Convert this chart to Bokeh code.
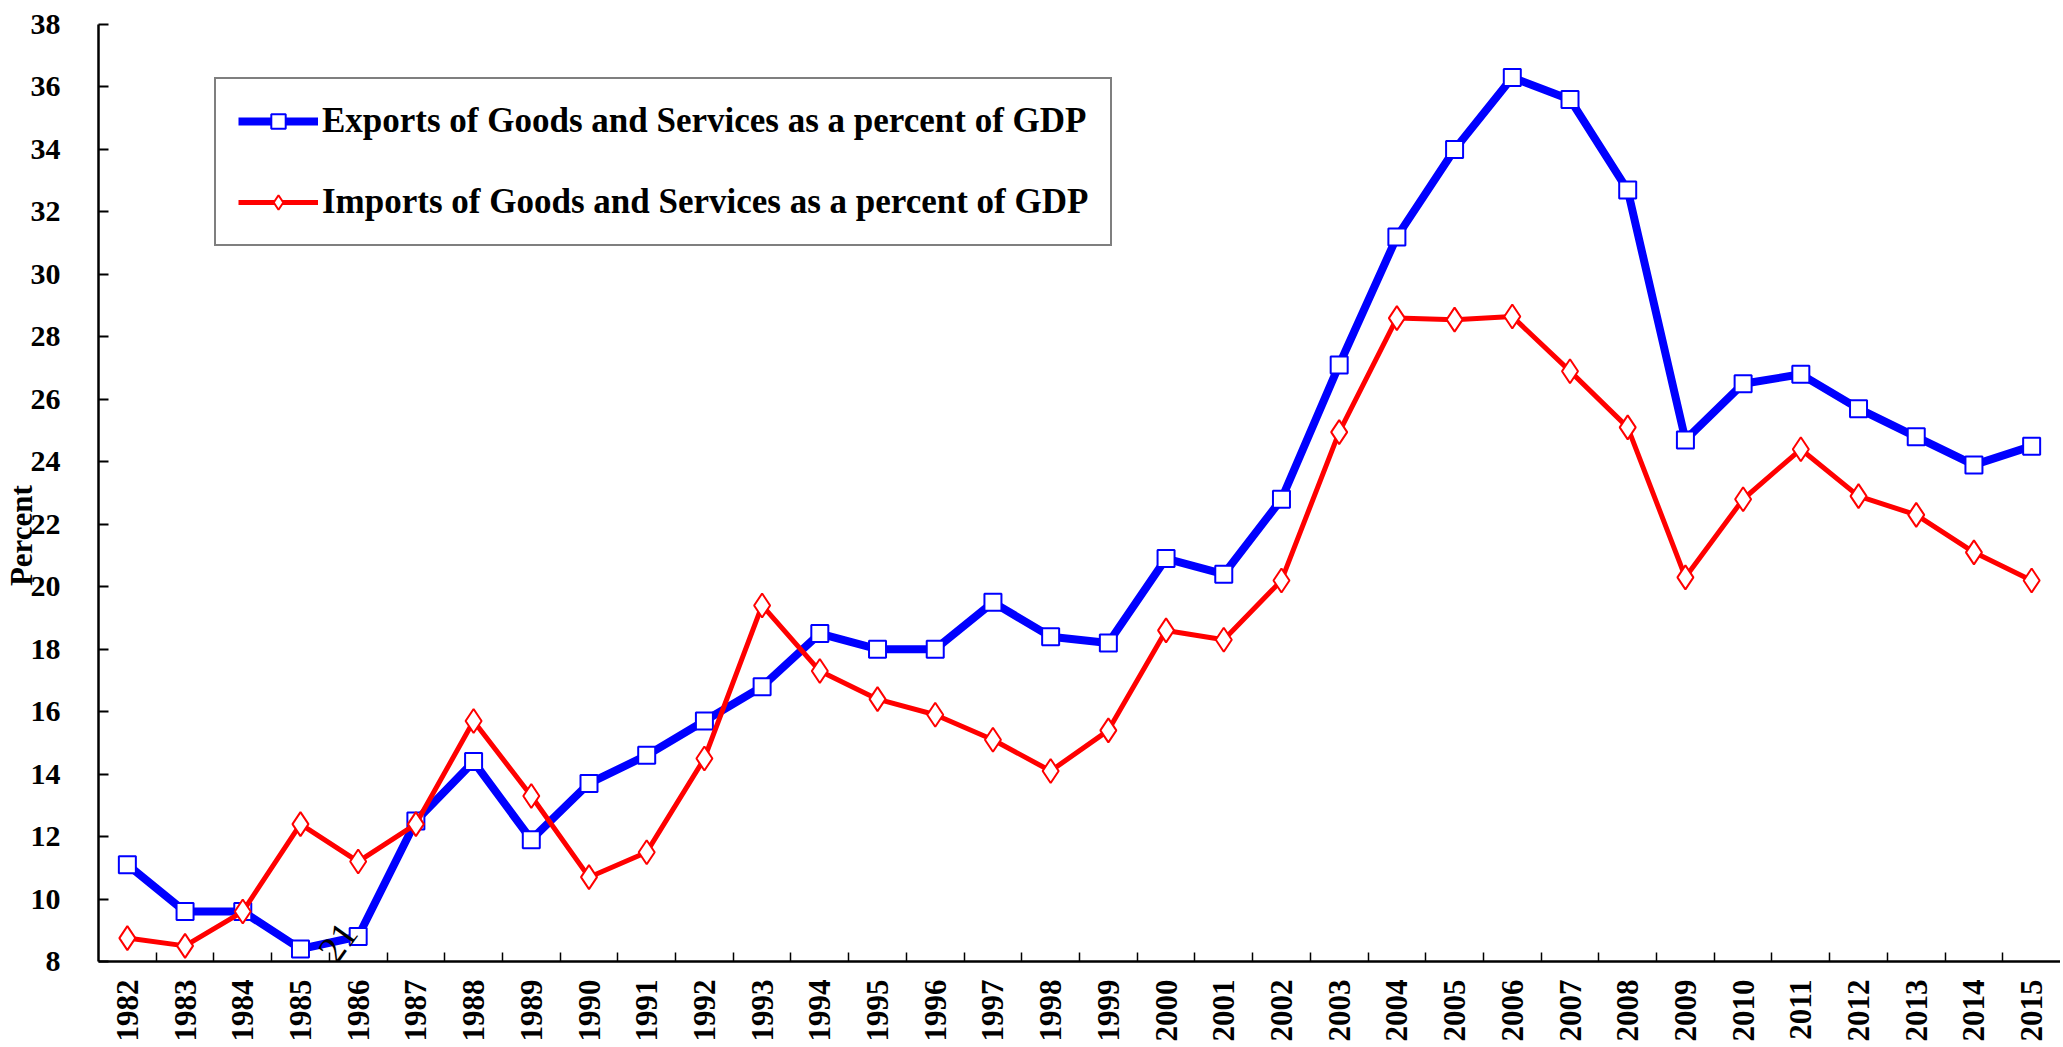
from bokeh.plotting import figure
from bokeh.models import (Range1d, FixedTicker, CustomJSTickFormatter, Label,
                          Legend, LegendItem)
from bokeh.embed import file_html
from bokeh.resources import INLINE
import math

years = ["1982", "1983", "1984", "1985", "1986", "1987", "1988", "1989",
         "1990", "1991", "1992", "1993", "1994", "1995", "1996", "1997",
         "1998", "1999", "2000", "2001", "2002", "2003", "2004", "2005",
         "2006", "2007", "2008", "2009", "2010", "2011", "2012", "2013",
         "2014", "2015"]

exports = [11.1, 9.6, 9.6, 8.4, 8.8, 12.5, 14.4, 11.9, 13.7, 14.6, 15.7, 16.8,
           18.5, 18.0, 18.0, 19.5, 18.4, 18.2, 20.9, 20.4, 22.8, 27.1, 31.2,
           34.0, 36.3, 35.6, 32.7, 24.7, 26.5, 26.8, 25.7, 24.8, 23.9, 24.5]

imports = [8.75, 8.5, 9.6, 12.4, 11.2, 12.4, 15.7, 13.3, 10.7, 11.5, 14.5, 19.4,
           17.3, 16.4, 15.9, 15.1, 14.1, 15.4, 18.6, 18.3, 20.2, 24.95, 28.6,
           28.55, 28.65, 26.9, 25.1, 20.3, 22.8, 24.4, 22.9, 22.3, 21.1, 20.2]

y_ticks = [8, 10, 12, 14, 16, 18, 20, 22, 24, 26, 28, 30, 32, 34, 36, 38]

export_label = "Exports of Goods and Services as a percent of GDP"
import_label = "Imports of Goods and Services as a percent of GDP"
y_title = "Percent"
stray_text = "21"

FONT = "Liberation Serif"

idx = list(range(len(years)))
n = len(years)

p = figure(width=2060, height=1044, output_backend="svg", toolbar_location=None,
           x_range=Range1d(-0.5, n - 0.5), y_range=Range1d(8, 38),
           min_border_left=96, min_border_right=0, min_border_top=24,
           min_border_bottom=82)
p.outline_line_color = None
p.background_fill_color = "white"
p.border_fill_color = "white"
p.xgrid.visible = False
p.ygrid.visible = False

# x axis: labels at category centres, small ticks at boundaries
p.xaxis.ticker = FixedTicker(ticks=idx, minor_ticks=[i + 0.5 for i in idx[:-1]])
p.xaxis.formatter = CustomJSTickFormatter(args=dict(labels=years),
                                          code="return labels[Math.round(tick)];")
p.xaxis.major_tick_in = 0
p.xaxis.major_tick_out = 0
p.xaxis.minor_tick_in = 9
p.xaxis.minor_tick_out = 0
p.xaxis.minor_tick_line_color = "black"
p.xaxis.minor_tick_line_width = 1.5
p.xaxis.major_label_orientation = math.pi / 2
p.xaxis.major_label_standoff = 18
p.xaxis.major_label_text_font = FONT
p.xaxis.major_label_text_font_style = "bold"
p.xaxis.major_label_text_font_size = "31px"
p.xaxis.major_label_text_color = "black"
p.xaxis.axis_line_width = 2.5
p.xaxis.axis_line_color = "black"

# y axis
p.yaxis.ticker = FixedTicker(ticks=y_ticks)
p.yaxis.major_tick_in = 10
p.yaxis.major_tick_out = 0
p.yaxis.minor_tick_in = 0
p.yaxis.minor_tick_out = 0
p.yaxis.major_tick_line_width = 2
p.yaxis.major_label_standoff = 38
p.yaxis.major_label_text_font = FONT
p.yaxis.major_label_text_font_style = "bold"
p.yaxis.major_label_text_font_size = "30px"
p.yaxis.major_label_text_color = "black"
p.yaxis.axis_line_width = 2.5
p.yaxis.axis_line_color = "black"
# title overlapping the tick labels, as in the reference (shifted down with
# trailing no-break spaces)
p.yaxis.axis_label = y_title + "\u00a0" * 11
p.yaxis.axis_label_standoff = -11
p.yaxis.axis_label_text_font = FONT
p.yaxis.axis_label_text_font_style = "bold"
p.yaxis.axis_label_text_font_size = "31px"
p.yaxis.axis_label_text_color = "black"

# series
l1 = p.line(idx, exports, line_color="#0000ff", line_width=8, line_join="round")
m1 = p.scatter(idx, exports, marker="square", size=17, fill_color="white",
               line_color="#0000ff", line_width=2)
l2 = p.line(idx, imports, line_color="#ff0000", line_width=5, line_join="round")
m2 = p.scatter(idx, imports, marker="diamond", size=24, fill_color="white",
               line_color="#ff0000", line_width=2)

legend = Legend(items=[LegendItem(label=export_label, renderers=[l1, m1]),
                       LegendItem(label=import_label, renderers=[l2, m2])],
                location=(116, 715))
legend.label_text_font = FONT
legend.label_text_font_style = "bold"
legend.label_text_font_size = "35px"
legend.label_text_color = "black"
legend.glyph_width = 80
legend.glyph_height = 36
legend.label_height = 36
legend.label_standoff = 4
legend.spacing = 41
legend.padding = 22
legend.margin = 0
legend.border_line_color = "black"
legend.border_line_width = 2
legend.background_fill_color = "white"
legend.background_fill_alpha = 1.0
p.add_layout(legend, "center")

# stray rotated text near 1985/1986
p.add_layout(Label(x=3.65, y=8.62, text=stray_text, angle=0.95,
                   text_align="center", text_baseline="middle",
                   text_font=FONT, text_font_size="38px", text_color="black"))

open("out.html", "w").write(file_html(p, INLINE))
